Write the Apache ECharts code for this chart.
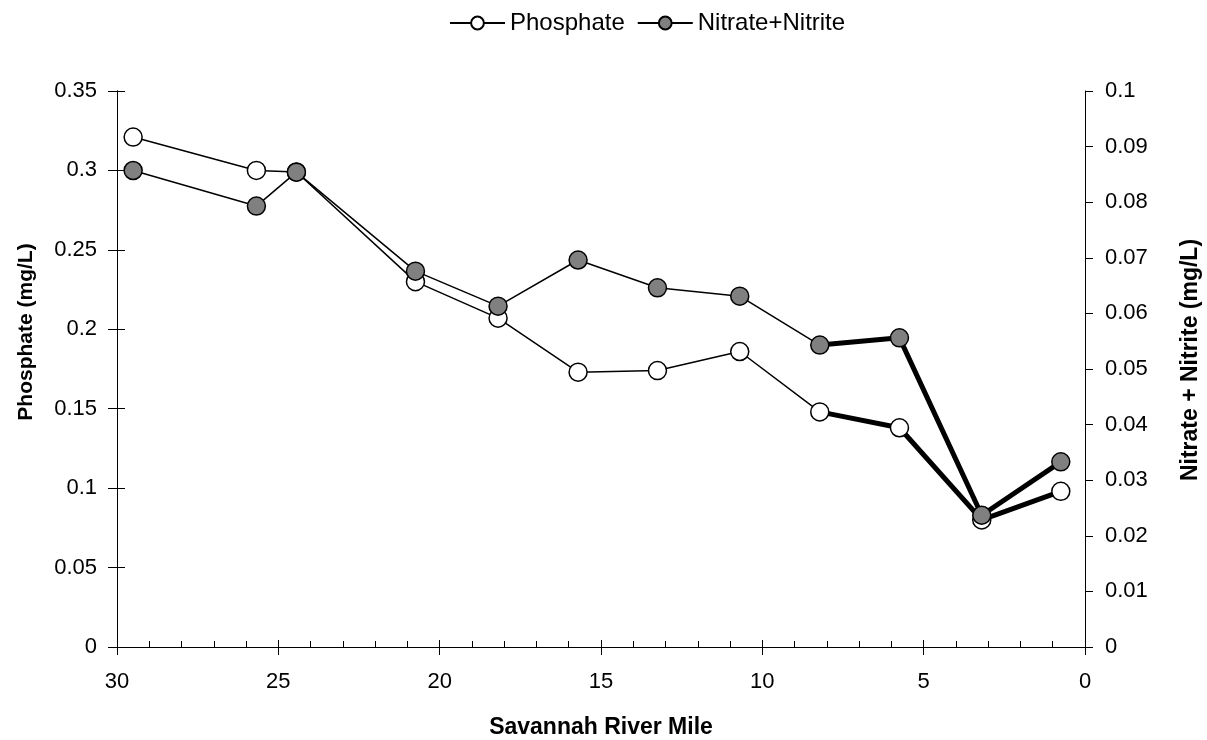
<!DOCTYPE html>
<html>
<head>
<meta charset="utf-8">
<script src="https://cdn.jsdelivr.net/npm/echarts@6/dist/echarts.min.js"></script>
<style>
  html, body { margin: 0; padding: 0; background: #fff; }
  #chart { width: 1207px; height: 740px; }
</style>
</head>
<body>
<div id="chart"></div>
<script>
// Sampling stations along the river (river mile) and measured concentrations
const riverMiles = [29.5, 25.68, 24.44, 20.75, 18.19, 15.71, 13.25, 10.7, 8.22, 5.75, 3.2, 0.75];
const phosphate = [0.321, 0.300, 0.299, 0.230, 0.207, 0.173, 0.174, 0.186, 0.148, 0.138, 0.080, 0.098];
const nitrateNitrite = [0.0857, 0.0793, 0.0854, 0.0676, 0.0613, 0.0696, 0.0646, 0.0631, 0.0543, 0.0556, 0.0237, 0.0333];
// Downstream stations whose connecting segments are drawn heavy
const heavyFrom = 8;
// Upstream end of the mile axis, where the phosphate axis stands
const mileMax = 30;

const FONT = '"Liberation Sans", Arial, sans-serif';

function pairs(values, start) {
  return riverMiles.map((m, i) => [m, values[i]]).slice(start || 0);
}

const chart = echarts.init(document.getElementById('chart'), null, { renderer: 'canvas' });

const lineBlack = () => ({ show: true, onZero: false, lineStyle: { color: '#000', width: 1 } });
const tickLabel = () => ({ color: '#000', fontFamily: FONT, fontSize: 22 });
const titleStyle = (size, pad) => ({
  color: '#000', fontFamily: FONT, fontSize: size, fontWeight: 'bold', padding: pad
});
const plotRect = { left: 117, right: 122, top: 91, bottom: 93, outerBoundsMode: 'none' };

chart.setOption({
  animation: false,
  backgroundColor: '#fff',
  legend: {
    left: 444, top: 6,
    itemWidth: 55, itemHeight: 16, itemGap: 12,
    data: ['Phosphate', 'Nitrate+Nitrite'],
    textStyle: { color: '#000', fontFamily: FONT, fontSize: 24 }
  },
  // grid 0 holds the data; grid 1 overlays it to draw the inward tick marks
  grid: [Object.assign({}, plotRect), Object.assign({}, plotRect)],
  xAxis: [
    {
      gridIndex: 0, type: 'value', min: 0, max: mileMax, interval: 5, inverse: true,
      name: 'Savannah River Mile', nameLocation: 'middle', nameGap: 69,
      nameTextStyle: titleStyle(23, 0),
      axisLine: lineBlack(),
      axisTick: { show: true, inside: false, length: 8, lineStyle: { color: '#000' } },
      axisLabel: Object.assign({ margin: 24 }, tickLabel()),
      splitLine: { show: false }
    },
    {
      gridIndex: 1, type: 'value', min: 0, max: mileMax, interval: 5, inverse: true, position: 'bottom',
      axisLine: { show: false, onZero: false },
      axisTick: { show: true, inside: true, length: 7, lineStyle: { color: '#000' } },
      minorTick: { show: true, splitNumber: 5, length: 6, lineStyle: { color: '#000' } },
      axisLabel: { show: false },
      splitLine: { show: false }
    }
  ],
  yAxis: [
    {
      gridIndex: 0, type: 'value', min: 0, max: 0.35, interval: 0.05, position: 'left',
      name: 'Phosphate (mg/L)', nameLocation: 'middle', nameGap: 80, nameRotate: 90,
      nameTextStyle: titleStyle(21, [0, 0, 0, 74]),
      axisLine: lineBlack(),
      axisTick: { show: true, inside: false, length: 9, lineStyle: { color: '#000' } },
      axisLabel: Object.assign({ margin: 20 }, tickLabel()),
      splitLine: { show: false }
    },
    {
      gridIndex: 0, type: 'value', min: 0, max: 0.1, interval: 0.01, position: 'right',
      name: 'Nitrate + Nitrite (mg/L)', nameLocation: 'middle', nameGap: 94, nameRotate: 90,
      nameTextStyle: titleStyle(23, [0, 0, 0, 18]),
      axisLine: lineBlack(),
      axisTick: { show: true, inside: false, length: 8, lineStyle: { color: '#000' } },
      axisLabel: Object.assign({ margin: 20 }, tickLabel()),
      splitLine: { show: false }
    },
    {
      gridIndex: 1, type: 'value', min: 0, max: 0.35, interval: 0.05, position: 'left',
      axisLine: lineBlack(),
      axisTick: { show: true, inside: true, length: 8, lineStyle: { color: '#000' } },
      axisLabel: { show: false },
      splitLine: { show: false }
    }
  ],
  series: [
    {
      name: 'Phosphate heavy', type: 'line', xAxisIndex: 0, yAxisIndex: 0,
      data: pairs(phosphate, heavyFrom), symbol: 'none', silent: true, clip: false,
      lineStyle: { color: '#000', width: 5 }, z: 2,
      // vertical rule at the upstream end of the mile axis
      markLine: {
        silent: true, symbol: 'none', label: { show: false },
        lineStyle: { color: '#000', width: 1, type: 'solid' },
        data: [{ xAxis: mileMax }]
      }
    },
    {
      name: 'Phosphate', type: 'line', xAxisIndex: 0, yAxisIndex: 0,
      data: pairs(phosphate), symbol: 'circle', symbolSize: 18,
      itemStyle: { color: '#fff', borderColor: '#000', borderWidth: 1.5 },
      lineStyle: { color: '#000', width: 1.5 }, z: 3
    },
    {
      name: 'Nitrate heavy', type: 'line', xAxisIndex: 0, yAxisIndex: 1,
      data: pairs(nitrateNitrite, heavyFrom), symbol: 'none', silent: true,
      lineStyle: { color: '#000', width: 5 }, z: 4
    },
    {
      name: 'Nitrate+Nitrite', type: 'line', xAxisIndex: 0, yAxisIndex: 1,
      data: pairs(nitrateNitrite), symbol: 'circle', symbolSize: 18,
      itemStyle: { color: '#808080', borderColor: '#000', borderWidth: 1.5 },
      lineStyle: { color: '#000', width: 1.5 }, z: 5
    }
  ]
});
</script>
</body>
</html>
